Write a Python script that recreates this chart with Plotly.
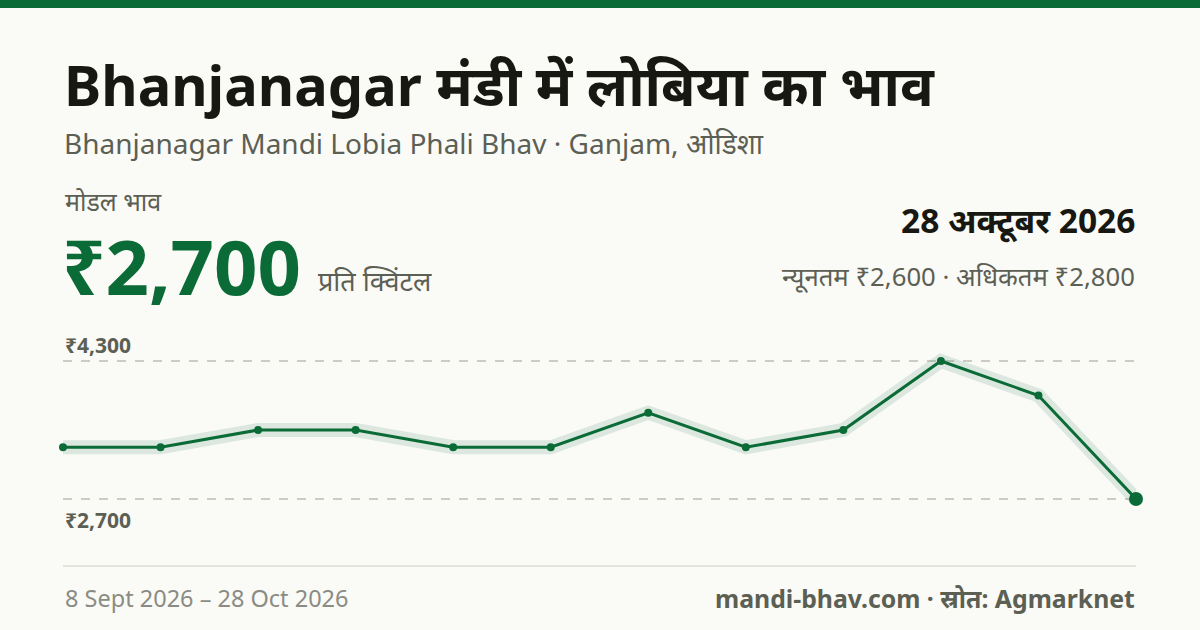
import plotly.graph_objects as go

# ---- data ----
dates = ["8 Sep", "13 Sep", "17 Sep", "22 Sep", "26 Sep", "1 Oct",
         "5 Oct", "10 Oct", "14 Oct", "19 Oct", "23 Oct", "28 Oct"]
modal_price = [3300, 3300, 3500, 3500, 3300, 3300, 3700, 3300, 3500, 4300, 3900, 2700]
grid_values = [4300, 2700]
grid_labels = ["₹4,300", "₹2,700"]

title = "Bhanjanagar मंडी में लोबिया का भाव"
subtitle = "Bhanjanagar Mandi Lobia Phali Bhav · Ganjam, ओडिशा"
modal_label = "मोडल भाव"
modal_value = "₹2,700"
unit_label = "प्रति क्विंटल"
date_label = "28 अक्टूबर 2026"
minmax_label = "न्यूनतम ₹2,600 · अधिकतम ₹2,800"
range_label = "8 Sept 2026 – 28 Oct 2026"
source_label = "mandi-bhav.com · स्रोत: Agmarknet"

# ---- layout geometry (pixels) ----
W, H = 1200, 630
L, R = 63, 64
T, B = 330, 90
PW = W - L - R
PH = H - T - B
GREEN = "#0b6b37"
DARK = "#161811"
GREY = "#5c5f54"
LIGHT = "#8a8c84"
BG = "#fafaf6"
FONT = "Noto Sans, Noto Sans Devanagari, sans-serif"


def px(x):
    return (x - L) / PW


def py(y):
    return (H - B - y) / PH


# y range derived from pixel layout: 4300 at y=361, 2700 at y=499
scale = (499 - 361) / (4300 - 2700)
ymax = 4300 + (361 - T) / scale
ymin = 2700 - ((H - B) - 499) / scale

fig = go.Figure()
fig.add_trace(go.Scatter(
    x=dates, y=modal_price, mode="lines", cliponaxis=False,
    line=dict(color="rgba(11,107,55,0.12)", width=14),
    hoverinfo="skip", showlegend=False))
fig.add_trace(go.Scatter(
    x=dates, y=modal_price, mode="lines+markers", cliponaxis=False,
    line=dict(color=GREEN, width=3),
    marker=dict(color=GREEN, size=8),
    showlegend=False))
fig.add_trace(go.Scatter(
    x=dates[-1:], y=modal_price[-1:], mode="markers", cliponaxis=False,
    marker=dict(color=GREEN, size=14),
    showlegend=False))

shapes = [
    dict(type="rect", xref="paper", yref="paper", x0=px(0), x1=px(W),
         y0=py(8), y1=py(0), fillcolor=GREEN, line=dict(width=0), layer="below"),
    dict(type="line", xref="paper", yref="paper", x0=px(63), x1=px(1136),
         y0=py(566), y1=py(566), line=dict(color="#e3e4dd", width=2)),
]
for v in grid_values:
    shapes.append(dict(type="line", xref="paper", yref="y", x0=0, x1=1, y0=v, y1=v,
                       line=dict(color="#bdbdb5", width=1.5, dash="dash"), layer="below"))

ann = []


def text(x, y, s, size, color, bold=False, xanchor="left"):
    ann.append(dict(xref="paper", yref="paper", x=px(x), y=py(y), text=(f"<b>{s}</b>" if bold else s),
                    showarrow=False, xanchor=xanchor, yanchor="middle",
                    font=dict(family=FONT, size=size, color=color)))


text(62, 84, title, 56, DARK, bold=True)
text(62, 143, subtitle, 28, GREY)
text(63, 201, modal_label, 25, GREY)
text(60, 265, modal_value, 76, GREEN, bold=True)
text(316, 280, unit_label, 27, GREY)
text(1137, 220, date_label, 33.5, DARK, bold=True, xanchor="right")
text(1137, 276, minmax_label, 25.7, GREY, xanchor="right")
text(63, 345, grid_labels[0], 21, GREY, bold=True)
text(63, 520, grid_labels[1], 21, GREY, bold=True)
text(63, 598, range_label, 23.5, LIGHT)
text(1137, 598, source_label, 24.8, GREY, bold=True, xanchor="right")

fig.update_layout(
    width=W, height=H,
    margin=dict(l=L, r=R, t=T, b=B, pad=0),
    paper_bgcolor=BG, plot_bgcolor=BG,
    shapes=shapes, annotations=ann,
    xaxis=dict(visible=False, range=[0, len(dates) - 1], fixedrange=True),
    yaxis=dict(visible=False, range=[ymin, ymax], fixedrange=True),
    font=dict(family=FONT),
)
fig.write_html("out.html", config={"displayModeBar": False})
